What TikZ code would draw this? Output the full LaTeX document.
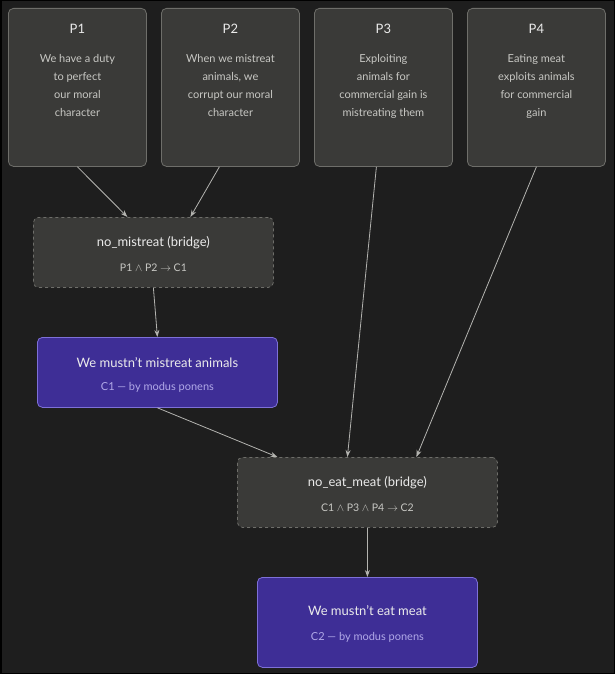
\documentclass[tikz,border=0pt]{standalone}
\usepackage{fontspec}
\setmainfont{Lato}
\usetikzlibrary{arrows.meta}
\definecolor{bg}{HTML}{1E1E1E}
\definecolor{boxf}{HTML}{3A3A38}
\definecolor{boxd}{HTML}{6E6E6A}
\definecolor{purf}{HTML}{3E2E96}
\definecolor{purd}{HTML}{7E70D8}
\definecolor{txt}{HTML}{C8C8C4}
\definecolor{conn}{HTML}{B4B4B0}
\begin{document}
\begin{tikzpicture}[x=1pt,y=-1pt,
  prem/.style={draw=boxd,fill=boxf,rounded corners=5pt,line width=0.8pt,minimum width=138pt,minimum height=158pt,anchor=north west,inner sep=0pt},
  bridge/.style={draw=boxd,fill=boxf,rounded corners=5pt,dashed,line width=0.8pt,minimum width=240pt,minimum height=70pt,anchor=north west,inner sep=0pt},
  concl/.style={draw=purd,fill=purf,rounded corners=5pt,line width=0.8pt,minimum width=240pt,minimum height=70pt,anchor=north west,inner sep=0pt},
  ttl/.style={text=white!92!black,font=\fontsize{13}{15}\selectfont},
  body/.style={text=txt,font=\fontsize{11}{18}\selectfont,align=center},
  arr/.style={draw=conn,line width=0.8pt,-{Stealth[length=7pt,width=5pt]}}]
\useasboundingbox (0,0) rectangle (615,674);
\fill[black] (0,0) rectangle (615,674);
\fill[bg] (1.5,1.5) rectangle (613.5,672.5);
\node[prem] (P1) at (8,8) {};
\node[prem] (P2) at (161,8) {};
\node[prem] (P3) at (314,8) {};
\node[prem] (P4) at (467,8) {};
\foreach \n/\t/\b in {P1/P1/{We have a duty\\to perfect\\our moral\\character},
  P2/P2/{When we mistreat\\animals, we\\corrupt our moral\\character},
  P3/P3/{Exploiting\\animals for\\commercial gain is\\mistreating them},
  P4/P4/{Eating meat\\exploits animals\\for commercial\\gain}}{
  \node[ttl] (\n t) at ([yshift=-21pt]\n.north) {\t};
  \node[body,anchor=north] (\n b) at ([yshift=-43pt]\n.north) {\b};
}
\node[bridge] (B1) at (33,217) {};
\node[ttl] (B1t) at ([yshift=-26pt]B1.north) {no\_mistreat (bridge)};
\node[body,font=\fontsize{10.5}{12}\selectfont] (B1b) at ([yshift=-51pt]B1.north) {P1 $\land$ P2 $\rightarrow$ C1};
\node[concl] (C1) at (37,337) {};
\node[ttl] (C1t) at ([yshift=-26pt]C1.north) {We mustn't mistreat animals};
\node[body,text=purd!60!white,font=\fontsize{11}{12}\selectfont] (C1b) at ([yshift=-50pt]C1.north) {C1 — by modus ponens};
\node[bridge,minimum width=260pt] (B2) at (237,457) {};
\node[ttl] (B2t) at ([yshift=-26pt]B2.north) {no\_eat\_meat (bridge)};
\node[body,font=\fontsize{10.5}{12}\selectfont] (B2b) at ([yshift=-51pt]B2.north) {C1 $\land$ P3 $\land$ P4 $\rightarrow$ C2};
\node[concl,minimum width=220pt,minimum height=90pt] (C2) at (257,577) {};
\node[ttl] (C2t) at ([yshift=-34pt]C2.north) {We mustn't eat meat};
\node[body,text=purd!60!white,font=\fontsize{11}{12}\selectfont] (C2b) at ([yshift=-60pt]C2.north) {C2 — by modus ponens};
\draw[arr] (P1.south) -- ([xshift=-26pt]B1.north);
\draw[arr] ([xshift=-11pt]P2.south) -- ([xshift=37pt]B1.north);
\draw[arr] (B1.south) -- (C1.north);
\draw[arr] (C1.south) -- ([xshift=-90pt]B2.north);
\draw[arr] ([xshift=-7pt]P3.south) -- ([xshift=-20pt]B2.north);
\draw[arr] (P4.south) -- ([xshift=49pt]B2.north);
\draw[arr] (B2.south) -- (C2.north);
\end{tikzpicture}
\end{document}
